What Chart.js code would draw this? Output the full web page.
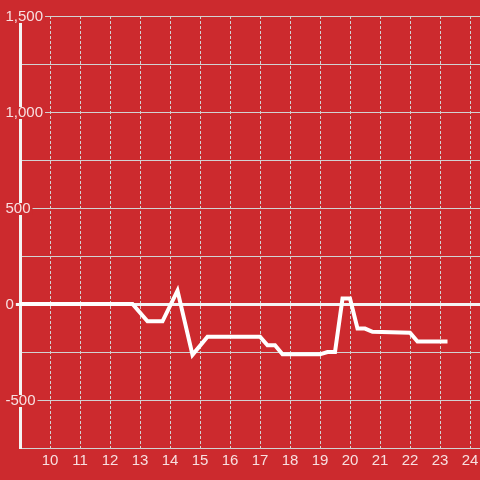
<!DOCTYPE html>
<html lang="en">
<head>
    <meta charset="UTF-8">
    <title>Line on red</title>
    <script src="https://cdn.jsdelivr.net/npm/chart.js@4.4.1/dist/chart.umd.min.js"></script>
    <style>
        html, body { margin: 0; padding: 0; background: #cc2a2e; }
        #chart { display: block; }
    </style>
</head>
<body>
    <canvas id="chart" width="480" height="480"></canvas>

    <script>
        // values
        const hours = [8.75, 9, 12.75, 13.25, 13.75, 14.25, 14.75, 15.25, 17, 17.25, 17.5, 17.75, 19, 19.25, 19.5, 19.75, 20, 20.25, 20.5, 20.75, 22, 22.25, 23.25];
        const values = [0, 0, 0, -90, -90, 70, -265, -170, -170, -215, -215, -262, -262, -250, -250, 28, 28, -128, -128, -145, -150, -195, -195];
        const xTicks = [10, 11, 12, 13, 14, 15, 16, 17, 18, 19, 20, 21, 22, 23, 24];

        const points = hours.map((h, i) => ({x: h, y: values[i]}));

        const labelColor = 'rgba(255,255,255,0.85)';
        const gridGray = '#d2d2d2';
        const font = {family: '"Liberation Sans", Arial, sans-serif', size: 15};

        new Chart(document.getElementById('chart'), {
            type: 'line',
            data: {
                datasets: [{
                    data: points,
                    borderColor: '#ffffff',
                    borderWidth: 4,
                    pointRadius: 0,
                    tension: 0,
                    fill: false
                }]
            },
            options: {
                responsive: false,
                animation: false,
                layout: {padding: {left: 6, top: 16, right: 0, bottom: 0}},
                plugins: {legend: {display: false}, tooltip: {enabled: false}},
                scales: {
                    x: {
                        type: 'linear',
                        min: 9,
                        max: 24 + 1 / 3,
                        afterBuildTicks: (scale) => {
                            scale.ticks = xTicks.map(v => ({value: v}));
                        },
                        afterFit: (scale) => {
                            scale.height = 32;
                            scale.paddingLeft = 0;
                            scale.paddingRight = 0;
                        },
                        grid: {color: gridGray, lineWidth: 1, drawTicks: false},
                        border: {color: gridGray, width: 1, dash: [3, 2]},
                        ticks: {color: labelColor, font: font, padding: 4, maxRotation: 0, autoSkip: false}
                    },
                    y: {
                        min: -750,
                        max: 1500,
                        afterFit: (scale) => {
                            scale.width = 14;
                            scale.paddingTop = 0;
                            scale.paddingBottom = 0;
                        },
                        grid: {
                            color: (ctx) => ctx.tick && ctx.tick.value === 0 ? '#f4f4f4' : gridGray,
                            lineWidth: (ctx) => ctx.tick && ctx.tick.value === 0 ? 3 : 1,
                            tickColor: (ctx) => ctx.tick && ctx.tick.value % 500 === 0 ? (ctx.tick.value === 0 ? '#f4f4f4' : gridGray) : 'rgba(0,0,0,0)',
                            tickLength: 8
                        },
                        border: {color: '#f4f4f4', width: 3},
                        ticks: {
                            stepSize: 250,
                            autoSkip: false,
                            mirror: true,
                            padding: -14.5,
                            labelOffset: 1,
                            color: labelColor,
                            font: font,
                            showLabelBackdrop: true,
                            backdropColor: '#cc2a2e',
                            backdropPadding: {left: 2, right: 2, top: -3, bottom: -3},
                            callback: (v) => v % 500 === 0 ? v.toLocaleString('en-US') : ''
                        }
                    }
                }
            }
        });
    </script>
</body>
</html>
